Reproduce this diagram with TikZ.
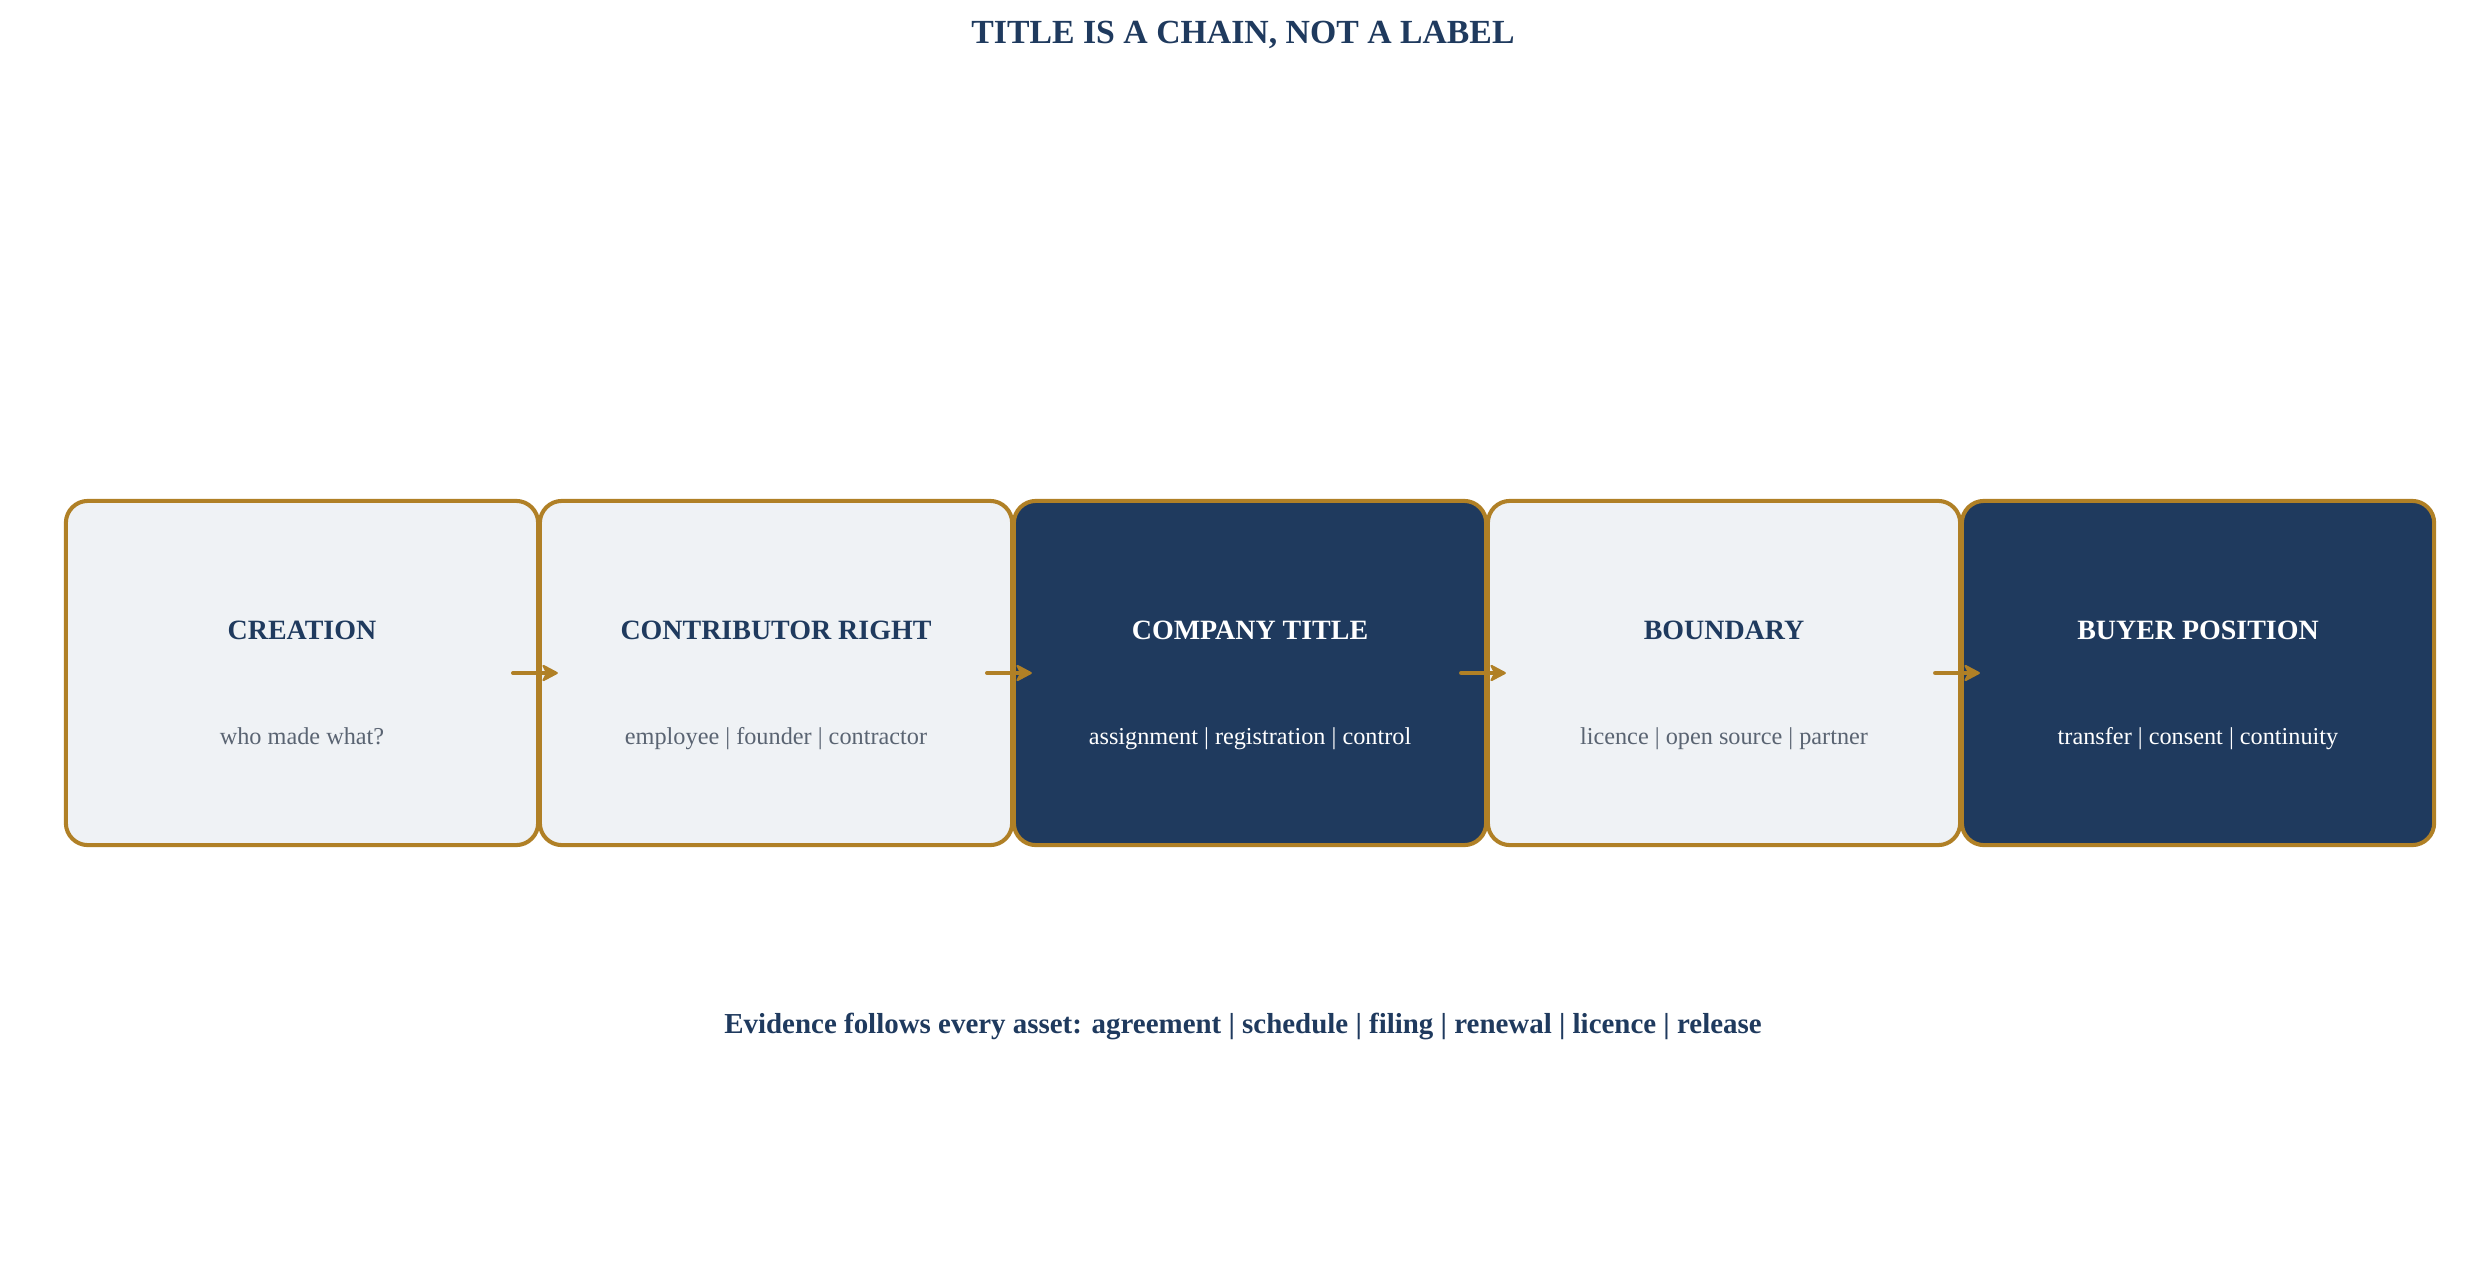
\documentclass[tikz,border=0pt]{standalone}
\usepackage{fontspec}
\setmainfont{Liberation Serif}
\usetikzlibrary{arrows.meta}
\definecolor{navy}{RGB}{31,58,94}
\definecolor{gold}{RGB}{176,128,38}
\definecolor{pale}{RGB}{239,242,245}
\definecolor{greytxt}{RGB}{90,100,114}
\tikzset{
  box/.style={draw=gold, line width=1.15pt, rounded corners=0.22cm, minimum width=4.72cm, minimum height=3.44cm, inner sep=0pt, outer sep=0pt},
  lightbox/.style={box, fill=pale},
  darkbox/.style={box, fill=navy},
  boxtitle/.style={font=\fontsize{7.95pt}{9pt}\selectfont\bfseries, inner sep=0pt},
  lighttitle/.style={boxtitle, text=navy},
  darktitle/.style={boxtitle, text=white},
  boxsub/.style={font=\fontsize{6.9pt}{8pt}\selectfont, inner sep=0pt, anchor=base},
  lightsub/.style={boxsub, text=greytxt},
  darksub/.style={boxsub, text=white},
  arr/.style={draw=gold, line width=1.2pt, line cap=round, -{Stealth[length=0.18cm,width=0.19cm,inset=0.05cm,round,line width=0.6pt]}},
}
\begin{document}
\begin{tikzpicture}[x=0.01cm, y=-0.01cm]
\useasboundingbox (0,0) rectangle (2486,1276);
\node[font=\fontsize{9.6pt}{11pt}\selectfont\bfseries, text=navy, inner sep=0pt] (title) at (1243,35) {TITLE IS A CHAIN, NOT A LABEL};

\node[lightbox] (b1) at (302,673) {};
\node[lightbox] (b2) at (776,673) {};
\node[darkbox]  (b3) at (1250,673) {};
\node[lightbox] (b4) at (1724,673) {};
\node[darkbox]  (b5) at (2198,673) {};

\node[lighttitle] (t1) at (302,630) {CREATION};
\node[lighttitle] (t2) at (776,630) {CONTRIBUTOR RIGHT};
\node[darktitle]  (t3) at (1250,630) {COMPANY TITLE};
\node[lighttitle] (t4) at (1724,630) {BOUNDARY};
\node[darktitle]  (t5) at (2198,630) {BUYER POSITION};

\node[lightsub] (s1) at (302,744) {who made what?};
\node[lightsub] (s2) at (776,744) {employee | founder | contractor};
\node[darksub]  (s3) at (1250,744) {assignment | registration | control};
\node[lightsub] (s4) at (1724,744) {licence | open source | partner};
\node[darksub]  (s5) at (2198,744) {transfer | consent | continuity};

\draw[arr] ([xshift=-0.25cm]b1.east) -- ([xshift=0.18cm]b2.west);
\draw[arr] ([xshift=-0.25cm]b2.east) -- ([xshift=0.18cm]b3.west);
\draw[arr] ([xshift=-0.25cm]b3.east) -- ([xshift=0.18cm]b4.west);
\draw[arr] ([xshift=-0.25cm]b4.east) -- ([xshift=0.18cm]b5.west);

\node[font=\fontsize{8.23pt}{9.5pt}\selectfont\bfseries, text=navy, inner sep=0pt] (foot) at (1243,1026) {Evidence follows every asset: agreement | schedule | filing | renewal | licence | release};
\end{tikzpicture}
\end{document}
